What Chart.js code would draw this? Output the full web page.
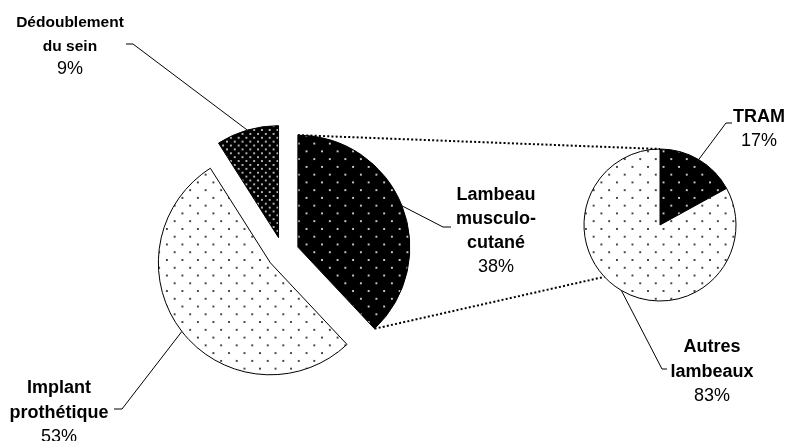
<!DOCTYPE html>
<html><head><meta charset="utf-8">
<script src="https://cdn.jsdelivr.net/npm/chart.js@4.4.0/dist/chart.umd.min.js"></script>
<style>
html,body{margin:0;padding:0;background:#fff;}
#wrap{position:relative;width:786px;height:441px;overflow:hidden;background:#fff;}
canvas{position:absolute;left:0;top:0;}
</style></head><body>
<div id="wrap"><canvas id="main" width="786" height="441"></canvas><canvas id="sub" width="786" height="441"></canvas></div>
<script>
// ---- data ----
const mainCategories = [['Lambeau', 'musculo-', 'cutané'], ['Implant', 'prothétique'], ['Dédoublement', 'du sein']];
const mainValues = [38, 53, 9];
const subCategories = [['TRAM'], ['Autres', 'lambeaux']];
const subValues = [17, 83];

// ---- layout / style ----
const FONT = '"Liberation Sans", Arial, sans-serif';
const EXPLODE = 16;
const SUB_CONNECT_DEG = 227;
const mainLabelLayout = [
  {x: 496, y: 200, elbow: [443, 227], tickX: 451, bold: 18, pct: 18, lh: 24},
  {x: 59, y: 393, elbow: [122, 409], tickX: 114, bold: 18, pct: 18, lh: 24.5},
  {x: 70, y: 27, elbow: [133, 44], tickX: 126, bold: 15.5, pct: 18, lh: 23.5}
];
const subLabelLayout = [
  {x: 759, y: 122, elbow: [726, 123], tickX: 732, bold: 18, pct: 18, lh: 23.5},
  {x: 712, y: 352, elbow: [662, 369], tickX: 667, bold: 18, pct: 18, lh: 24.5}
];

function makePattern(bg, dot, tile, dots) {
  const c = document.createElement('canvas');
  c.width = tile; c.height = tile;
  const g = c.getContext('2d');
  g.fillStyle = bg; g.fillRect(0, 0, tile, tile);
  g.fillStyle = dot;
  dots.forEach(([x, y]) => g.fillRect(x, y, 2, 2));
  const p = document.createElement('canvas').getContext('2d').createPattern(c, 'repeat');
  if (p.setTransform) p.setTransform(new DOMMatrix().scale(0.97));
  return p;
}
const pDark = makePattern('#000', '#c8c8c8', 16, [[3, 3], [11, 11]]);
const pLight = makePattern('#fff', '#444', 16, [[3, 3], [11, 11]]);
const pDense = makePattern('#000', '#b4b4b4', 8, [[1, 1], [5, 5]]);

function pctText(values, i) {
  const s = values.reduce((a, b) => a + b, 0);
  return Math.round(values[i] / s * 100) + '%';
}

function drawLabels(chart, cats, values, layout) {
  const ctx = chart.ctx;
  const meta = chart.getDatasetMeta(0);
  ctx.save();
  meta.data.forEach((arc, i) => {
    const L = layout[i];
    const mid = (arc.startAngle + arc.endAngle) / 2;
    const sx = arc.x + Math.cos(mid) * arc.outerRadius;
    const sy = arc.y + Math.sin(mid) * arc.outerRadius;
    ctx.strokeStyle = '#000';
    ctx.lineWidth = 1;
    ctx.setLineDash([]);
    ctx.beginPath();
    ctx.moveTo(sx, sy);
    ctx.lineTo(L.elbow[0], L.elbow[1]);
    ctx.lineTo(L.tickX, L.elbow[1]);
    ctx.stroke();
    ctx.fillStyle = '#000';
    ctx.textAlign = 'center';
    ctx.textBaseline = 'alphabetic';
    let y = L.y;
    ctx.font = 'bold ' + L.bold + 'px ' + FONT;
    cats[i].forEach(line => { ctx.fillText(line, L.x, y); y += L.lh; });
    ctx.font = L.pct + 'px ' + FONT;
    ctx.fillText(pctText(values, i), L.x, y);
  });
  ctx.restore();
}

const explodePlugin = {
  id: 'explode',
  afterDatasetsUpdate(chart) {
    chart.getDatasetMeta(0).data.forEach(a => {
      const mid = (a.startAngle + a.endAngle) / 2;
      a.x += Math.cos(mid) * EXPLODE;
      a.y += Math.sin(mid) * EXPLODE;
    });
  }
};

const baseOptions = (padding) => ({
  responsive: false,
  animation: false,
  events: [],
  layout: {padding},
  plugins: {legend: {display: false}, tooltip: {enabled: false}}
});

const mainChart = new Chart(document.getElementById('main'), {
  type: 'pie',
  data: {
    labels: mainCategories.map(c => c.join(' ')),
    datasets: [{
      data: mainValues,
      backgroundColor: [pDark, pLight, pDense],
      borderColor: '#000',
      borderWidth: 1,
      radius: 112,
      hoverOffset: 0,
      clip: false
    }]
  },
  options: baseOptions({left: 0, right: 220, top: 65, bottom: 0}),
  plugins: [explodePlugin, {
    id: 'mainLabels',
    afterDraw(chart) { drawLabels(chart, mainCategories, mainValues, mainLabelLayout); }
  }]
});

const subChart = new Chart(document.getElementById('sub'), {
  type: 'pie',
  data: {
    labels: subCategories.map(c => c.join(' ')),
    datasets: [{
      data: subValues,
      backgroundColor: [pDark, pLight],
      borderColor: '#000',
      borderWidth: 1,
      radius: 76,
      hoverOffset: 0,
      clip: false
    }]
  },
  options: baseOptions({left: 534, right: 0, top: 9, bottom: 0}),
  plugins: [{
    id: 'subLabels',
    afterDraw(chart) {
      drawLabels(chart, subCategories, subValues, subLabelLayout);
      // connector lines between the "other" slice and the secondary pie
      const src = mainChart.getDatasetMeta(0).data[0];
      const dst = chart.getDatasetMeta(0).data[0];
      const r1 = src.outerRadius, r2 = dst.outerRadius;
      const a1 = src.startAngle, a2 = src.endAngle;
      const b1 = -Math.PI / 2, b2 = -Math.PI / 2 + SUB_CONNECT_DEG * Math.PI / 180;
      const ctx = chart.ctx;
      ctx.save();
      ctx.strokeStyle = '#000';
      ctx.lineWidth = 2;
      ctx.setLineDash([2, 2.2]);
      ctx.beginPath();
      ctx.moveTo(src.x + Math.cos(a1) * r1, src.y + Math.sin(a1) * r1);
      ctx.lineTo(dst.x + Math.cos(b1) * r2, dst.y + Math.sin(b1) * r2);
      ctx.moveTo(src.x + Math.cos(a2) * r1, src.y + Math.sin(a2) * r1);
      ctx.lineTo(dst.x + Math.cos(b2) * r2, dst.y + Math.sin(b2) * r2);
      ctx.stroke();
      ctx.restore();
    }
  }]
});
</script>
</body></html>
